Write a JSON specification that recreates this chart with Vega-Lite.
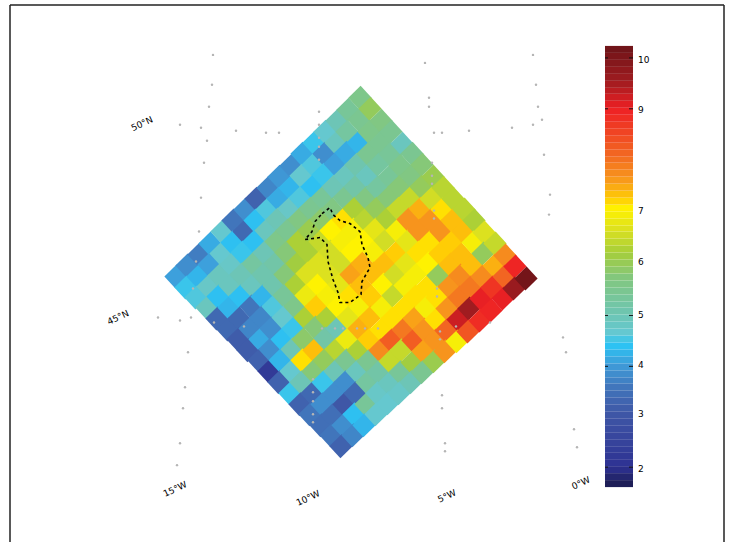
{"$schema":"https://vega.github.io/schema/vega-lite/v6.json","width":733,"height":543,"padding":0,"autosize":{"type":"fit","contains":"padding"},"background":"white","config":{"view":{"stroke":null}},
"datasets":{"cells":[
{"e":176,"n":266,"v":4.1},{"e":187,"n":277,"v":3.9},{"e":199,"n":288,"v":3.7},{"e":210,"n":299,"v":4.2},{"e":222,"n":311,"v":4.7},{"e":233,"n":322,"v":3.6},{"e":245,"n":333,"v":3.9},{"e":256,"n":344,"v":3.3},{"e":268,"n":355,"v":3.8},{"e":279,"n":366,"v":4.0},{"e":291,"n":377,"v":3.9},{"e":302,"n":389,"v":4.2},{"e":314,"n":400,"v":4.5},{"e":325,"n":411,"v":4.7},{"e":337,"n":422,"v":5.0},{"e":348,"n":433,"v":5.4},{"e":360,"n":445,"v":5.6},
{"e":186,"n":255,"v":4.5},{"e":198,"n":266,"v":4.3},{"e":209,"n":278,"v":4.1},{"e":221,"n":289,"v":4.7},{"e":232,"n":300,"v":4.4},{"e":244,"n":311,"v":3.4},{"e":255,"n":322,"v":4.4},{"e":267,"n":333,"v":4.6},{"e":278,"n":344,"v":4.2},{"e":290,"n":355,"v":4.3},{"e":301,"n":367,"v":4.7},{"e":313,"n":378,"v":4.6},{"e":324,"n":389,"v":3.9},{"e":336,"n":400,"v":4.9},{"e":347,"n":411,"v":5.3},{"e":359,"n":423,"v":5.5},{"e":370,"n":434,"v":6.0},
{"e":196,"n":245,"v":4.6},{"e":208,"n":256,"v":4.8},{"e":219,"n":267,"v":4.9},{"e":231,"n":278,"v":4.8},{"e":242,"n":290,"v":4.5},{"e":254,"n":301,"v":4.4},{"e":266,"n":312,"v":4.9},{"e":277,"n":323,"v":5.0},{"e":289,"n":334,"v":4.8},{"e":300,"n":345,"v":4.6},{"e":312,"n":356,"v":4.4},{"e":323,"n":368,"v":4.5},{"e":335,"n":379,"v":4.1},{"e":346,"n":390,"v":4.2},{"e":358,"n":400,"v":4.3},{"e":369,"n":411,"v":5.6},{"e":381,"n":422,"v":5.7},
{"e":207,"n":235,"v":4.9},{"e":218,"n":246,"v":4.4},{"e":230,"n":257,"v":4.9},{"e":241,"n":268,"v":5.0},{"e":253,"n":279,"v":5.3},{"e":264,"n":290,"v":5.0},{"e":276,"n":301,"v":5.6},{"e":287,"n":312,"v":5.5},{"e":299,"n":323,"v":5.7},{"e":310,"n":334,"v":5.5},{"e":322,"n":345,"v":5.4},{"e":333,"n":356,"v":5.0},{"e":345,"n":367,"v":4.9},{"e":356,"n":378,"v":5.1},{"e":368,"n":389,"v":5.5},{"e":380,"n":400,"v":5.5},{"e":391,"n":411,"v":5.5},
{"e":217,"n":224,"v":3.4},{"e":229,"n":235,"v":4.3},{"e":240,"n":246,"v":4.4},{"e":252,"n":257,"v":4.9},{"e":263,"n":268,"v":5.1},{"e":275,"n":279,"v":5.2},{"e":286,"n":290,"v":5.8},{"e":298,"n":301,"v":6.3},{"e":309,"n":312,"v":6.1},{"e":321,"n":323,"v":5.9},{"e":332,"n":333,"v":5.7},{"e":344,"n":345,"v":5.5},{"e":355,"n":356,"v":5.2},{"e":367,"n":367,"v":4.9},{"e":378,"n":378,"v":5.3},{"e":390,"n":389,"v":5.4},{"e":402,"n":399,"v":4.9},
{"e":228,"n":213,"v":3.4},{"e":239,"n":224,"v":3.4},{"e":251,"n":236,"v":3.6},{"e":262,"n":246,"v":4.3},{"e":274,"n":257,"v":5.1},{"e":285,"n":268,"v":5.8},{"e":297,"n":279,"v":6.2},{"e":308,"n":290,"v":6.3},{"e":320,"n":301,"v":6.5},{"e":331,"n":312,"v":7.1},{"e":343,"n":323,"v":7.2},{"e":354,"n":334,"v":6.3},{"e":366,"n":345,"v":5.7},{"e":377,"n":355,"v":5.3},{"e":389,"n":366,"v":5.4},{"e":400,"n":377,"v":5.6},{"e":412,"n":389,"v":5.5},
{"e":238,"n":203,"v":3.2},{"e":250,"n":214,"v":3.8},{"e":261,"n":225,"v":3.8},{"e":273,"n":236,"v":4.6},{"e":284,"n":247,"v":5.4},{"e":296,"n":258,"v":6.3},{"e":307,"n":269,"v":6.7},{"e":319,"n":280,"v":6.7},{"e":330,"n":291,"v":6.6},{"e":342,"n":301,"v":7.0},{"e":353,"n":313,"v":7.0},{"e":365,"n":323,"v":6.4},{"e":376,"n":334,"v":6.0},{"e":388,"n":345,"v":5.8},{"e":399,"n":356,"v":5.8},{"e":411,"n":367,"v":5.7},{"e":422,"n":378,"v":5.8},
{"e":248,"n":192,"v":3.2},{"e":260,"n":203,"v":4.2},{"e":271,"n":214,"v":3.9},{"e":283,"n":225,"v":4.7},{"e":295,"n":236,"v":5.6},{"e":306,"n":247,"v":6.9},{"e":318,"n":258,"v":7.1},{"e":329,"n":269,"v":6.7},{"e":341,"n":280,"v":6.6},{"e":352,"n":291,"v":7.1},{"e":364,"n":302,"v":7.1},{"e":375,"n":313,"v":6.8},{"e":387,"n":324,"v":6.3},{"e":398,"n":334,"v":6.5},{"e":410,"n":345,"v":6.5},{"e":421,"n":356,"v":6.0},{"e":433,"n":366,"v":6.1},
{"e":259,"n":182,"v":3.3},{"e":270,"n":193,"v":3.9},{"e":282,"n":203,"v":4.4},{"e":293,"n":214,"v":4.5},{"e":305,"n":225,"v":6.3},{"e":316,"n":236,"v":7.3},{"e":328,"n":247,"v":7.0},{"e":339,"n":258,"v":6.8},{"e":351,"n":268,"v":7.6},{"e":362,"n":279,"v":7.5},{"e":374,"n":291,"v":7.0},{"e":385,"n":302,"v":6.6},{"e":397,"n":312,"v":7.0},{"e":408,"n":323,"v":7.7},{"e":420,"n":334,"v":7.5},{"e":431,"n":344,"v":6.6},{"e":443,"n":355,"v":6.4},
{"e":269,"n":171,"v":2.3},{"e":280,"n":182,"v":4.3},{"e":292,"n":193,"v":5.0},{"e":303,"n":203,"v":5.9},{"e":315,"n":215,"v":5.8},{"e":327,"n":225,"v":6.3},{"e":338,"n":236,"v":7.1},{"e":350,"n":247,"v":7.2},{"e":361,"n":257,"v":7.4},{"e":373,"n":269,"v":7.4},{"e":384,"n":279,"v":7.4},{"e":396,"n":290,"v":7.3},{"e":407,"n":301,"v":6.8},{"e":419,"n":312,"v":7.7},{"e":430,"n":322,"v":7.7},{"e":442,"n":333,"v":7.2},{"e":453,"n":344,"v":6.4},
{"e":279,"n":160,"v":3.3},{"e":291,"n":171,"v":4.7},{"e":302,"n":182,"v":7.2},{"e":314,"n":192,"v":7.4},{"e":325,"n":204,"v":5.2},{"e":337,"n":214,"v":5.0},{"e":348,"n":225,"v":6.8},{"e":360,"n":236,"v":7.0},{"e":371,"n":246,"v":7.3},{"e":383,"n":258,"v":7.1},{"e":395,"n":268,"v":6.6},{"e":406,"n":279,"v":6.8},{"e":418,"n":290,"v":7.2},{"e":429,"n":300,"v":7.2},{"e":441,"n":311,"v":7.7},{"e":452,"n":322,"v":7.4},{"e":464,"n":333,"v":6.4},
{"e":290,"n":149,"v":4.5},{"e":301,"n":160,"v":5.0},{"e":313,"n":171,"v":5.8},{"e":324,"n":182,"v":6.0},{"e":336,"n":193,"v":6.4},{"e":347,"n":203,"v":6.9},{"e":359,"n":214,"v":7.5},{"e":370,"n":225,"v":7.4},{"e":382,"n":235,"v":7.0},{"e":393,"n":247,"v":6.5},{"e":405,"n":257,"v":7.0},{"e":416,"n":268,"v":7.0},{"e":428,"n":279,"v":7.1},{"e":440,"n":289,"v":7.3},{"e":451,"n":300,"v":7.3},{"e":463,"n":311,"v":7.4},{"e":474,"n":322,"v":6.3},
{"e":300,"n":138,"v":3.3},{"e":312,"n":149,"v":3.4},{"e":323,"n":160,"v":4.5},{"e":335,"n":171,"v":5.0},{"e":346,"n":182,"v":5.5},{"e":358,"n":192,"v":6.3},{"e":369,"n":203,"v":7.3},{"e":381,"n":213,"v":7.2},{"e":392,"n":224,"v":7.2},{"e":404,"n":235,"v":7.2},{"e":415,"n":246,"v":7.2},{"e":427,"n":256,"v":7.2},{"e":438,"n":267,"v":6.0},{"e":450,"n":278,"v":7.4},{"e":461,"n":288,"v":7.4},{"e":473,"n":300,"v":7.0},{"e":484,"n":310,"v":6.7},
{"e":310,"n":128,"v":3.6},{"e":322,"n":138,"v":3.9},{"e":334,"n":149,"v":3.9},{"e":345,"n":160,"v":3.9},{"e":357,"n":171,"v":4.9},{"e":368,"n":181,"v":5.5},{"e":380,"n":192,"v":7.8},{"e":391,"n":202,"v":8.3},{"e":403,"n":213,"v":8.0},{"e":414,"n":224,"v":7.6},{"e":426,"n":235,"v":7.0},{"e":437,"n":245,"v":7.2},{"e":449,"n":256,"v":7.7},{"e":460,"n":267,"v":7.8},{"e":472,"n":277,"v":7.4},{"e":483,"n":289,"v":6.0},{"e":495,"n":299,"v":6.5},
{"e":321,"n":117,"v":3.5},{"e":332,"n":127,"v":3.5},{"e":344,"n":138,"v":3.1},{"e":355,"n":149,"v":3.4},{"e":367,"n":160,"v":5.3},{"e":378,"n":170,"v":5.2},{"e":390,"n":181,"v":6.5},{"e":401,"n":192,"v":6.5},{"e":413,"n":202,"v":8.3},{"e":424,"n":213,"v":7.7},{"e":436,"n":223,"v":7.2},{"e":447,"n":234,"v":7.7},{"e":459,"n":245,"v":8.0},{"e":470,"n":255,"v":8.0},{"e":482,"n":266,"v":7.8},{"e":494,"n":277,"v":7.5},{"e":505,"n":287,"v":7.8},
{"e":331,"n":107,"v":3.6},{"e":343,"n":117,"v":3.9},{"e":354,"n":128,"v":4.4},{"e":366,"n":138,"v":5.4},{"e":377,"n":149,"v":4.8},{"e":389,"n":159,"v":4.9},{"e":400,"n":170,"v":5.4},{"e":412,"n":180,"v":6.2},{"e":423,"n":191,"v":7.6},{"e":435,"n":202,"v":7.7},{"e":446,"n":212,"v":8.2},{"e":458,"n":223,"v":9.3},{"e":469,"n":234,"v":9.6},{"e":481,"n":244,"v":9.1},{"e":492,"n":255,"v":8.8},{"e":504,"n":266,"v":8.2},{"e":515,"n":276,"v":9.0},
{"e":341,"n":96,"v":3.3},{"e":353,"n":107,"v":3.8},{"e":364,"n":117,"v":4.3},{"e":376,"n":128,"v":4.7},{"e":388,"n":139,"v":4.7},{"e":399,"n":149,"v":4.8},{"e":411,"n":160,"v":5.0},{"e":422,"n":170,"v":5.5},{"e":434,"n":181,"v":6.1},{"e":445,"n":191,"v":7.7},{"e":457,"n":201,"v":7.0},{"e":468,"n":211,"v":8.4},{"e":480,"n":222,"v":8.9},{"e":491,"n":232,"v":9.0},{"e":503,"n":244,"v":9.1},{"e":514,"n":254,"v":9.7},{"e":526,"n":264,"v":10.2}
],
"bar":[{"v":1.72,"n":55,"n2":62},{"v":1.85,"n":62,"n2":69},{"v":1.99,"n":69,"n2":76},{"v":2.12,"n":76,"n2":83},{"v":2.26,"n":83,"n2":90},{"v":2.39,"n":90,"n2":96},{"v":2.53,"n":96,"n2":103},{"v":2.66,"n":103,"n2":110},{"v":2.8,"n":110,"n2":117},{"v":2.94,"n":117,"n2":124},{"v":3.07,"n":124,"n2":131},{"v":3.21,"n":131,"n2":138},{"v":3.34,"n":138,"n2":145},{"v":3.48,"n":145,"n2":152},{"v":3.61,"n":152,"n2":159},{"v":3.75,"n":159,"n2":165},{"v":3.88,"n":165,"n2":172},{"v":4.02,"n":172,"n2":179},{"v":4.15,"n":179,"n2":186},{"v":4.29,"n":186,"n2":193},{"v":4.42,"n":193,"n2":200},{"v":4.56,"n":200,"n2":207},{"v":4.69,"n":207,"n2":214},{"v":4.83,"n":214,"n2":221},{"v":4.96,"n":221,"n2":228},{"v":5.1,"n":228,"n2":235},{"v":5.23,"n":235,"n2":241},{"v":5.37,"n":241,"n2":248},{"v":5.5,"n":248,"n2":255},{"v":5.64,"n":255,"n2":262},{"v":5.77,"n":262,"n2":269},{"v":5.91,"n":269,"n2":276},{"v":6.04,"n":276,"n2":283},{"v":6.18,"n":283,"n2":290},{"v":6.31,"n":290,"n2":297},{"v":6.45,"n":297,"n2":304},{"v":6.58,"n":304,"n2":311},{"v":6.72,"n":311,"n2":317},{"v":6.85,"n":317,"n2":324},{"v":6.99,"n":324,"n2":331},{"v":7.12,"n":331,"n2":338},{"v":7.26,"n":338,"n2":345},{"v":7.39,"n":345,"n2":352},{"v":7.53,"n":352,"n2":359},{"v":7.66,"n":359,"n2":366},{"v":7.8,"n":366,"n2":373},{"v":7.93,"n":373,"n2":380},{"v":8.07,"n":380,"n2":386},{"v":8.2,"n":386,"n2":393},{"v":8.34,"n":393,"n2":400},{"v":8.47,"n":400,"n2":407},{"v":8.61,"n":407,"n2":414},{"v":8.74,"n":414,"n2":421},{"v":8.88,"n":421,"n2":428},{"v":9.01,"n":428,"n2":435},{"v":9.15,"n":435,"n2":442},{"v":9.28,"n":442,"n2":449},{"v":9.42,"n":449,"n2":455},{"v":9.55,"n":455,"n2":462},{"v":9.69,"n":462,"n2":469},{"v":9.82,"n":469,"n2":476},{"v":9.96,"n":476,"n2":483},{"v":10.09,"n":483,"n2":490},{"v":10.23,"n":490,"n2":497}],
"barlabels":[{"t":"10","n":483},{"t":"9","n":433},{"t":"7","n":332},{"t":"6","n":281},{"t":"5","n":227},{"t":"4","n":177},{"t":"3","n":128},{"t":"2","n":73}],
"contour":[{"o":1,"e":322,"n":329},{"o":2,"e":330,"n":335},{"o":3,"e":333,"n":328},{"o":4,"e":340,"n":322},{"o":5,"e":350,"n":319},{"o":6,"e":360,"n":311},{"o":7,"e":362,"n":298},{"o":8,"e":368,"n":285},{"o":9,"e":370,"n":275},{"o":10,"e":362,"n":261},{"o":11,"e":361,"n":248},{"o":12,"e":350,"n":240},{"o":13,"e":340,"n":240},{"o":14,"e":338,"n":250},{"o":15,"e":333,"n":263},{"o":16,"e":328,"n":281},{"o":17,"e":327,"n":298},{"o":18,"e":320,"n":305},{"o":19,"e":305,"n":303},{"o":20,"e":312,"n":311},{"o":21,"e":315,"n":321},{"o":22,"e":322,"n":329}],
"dots":[{"e":212,"n":458},{"e":209,"n":436},{"e":180,"n":418},{"e":201,"n":415},{"e":236,"n":412},{"e":266,"n":410},{"e":279,"n":410},{"e":207,"n":402},{"e":204,"n":380},{"e":201,"n":345},{"e":199,"n":311},{"e":319,"n":431},{"e":319,"n":418},{"e":319,"n":405},{"e":319,"n":396},{"e":319,"n":383},{"e":196,"n":281},{"e":536,"n":458},{"e":429,"n":445},{"e":429,"n":436},{"e":538,"n":436},{"e":542,"n":423},{"e":533,"n":418},{"e":434,"n":410},{"e":442,"n":410},{"e":469,"n":412},{"e":512,"n":415},{"e":544,"n":388},{"e":432,"n":380},{"e":432,"n":367},{"e":432,"n":359},{"e":434,"n":332},{"e":434,"n":324},{"e":158,"n":225},{"e":180,"n":222},{"e":191,"n":225},{"e":193,"n":254},{"e":214,"n":220},{"e":244,"n":216},{"e":188,"n":190},{"e":185,"n":155},{"e":183,"n":134},{"e":180,"n":99},{"e":177,"n":77},{"e":313,"n":163},{"e":313,"n":150},{"e":313,"n":141},{"e":313,"n":128},{"e":313,"n":120},{"e":322,"n":214},{"e":335,"n":214},{"e":343,"n":214},{"e":357,"n":214},{"e":365,"n":214},{"e":378,"n":214},{"e":437,"n":254},{"e":437,"n":246},{"e":440,"n":211},{"e":440,"n":203},{"e":456,"n":216},{"e":490,"n":220},{"e":442,"n":147},{"e":442,"n":134},{"e":445,"n":99},{"e":445,"n":91},{"e":213,"n":488},{"e":533,"n":488},{"e":425,"n":480},{"e":550,"n":348},{"e":549,"n":328},{"e":563,"n":205},{"e":566,"n":190},{"e":574,"n":113},{"e":577,"n":95}],
"labels":[{"t":"50°N","e":142,"n":419},{"t":"45°N","e":118,"n":225},{"t":"15°W","e":175,"n":53},{"t":"10°W","e":308,"n":44},{"t":"5°W","e":447,"n":46},{"t":"0°W","e":581,"n":59}],
"frame":[{"e":10,"e2":10,"n":0,"n2":538},{"e":10,"e2":724,"n":538,"n2":538},{"e":724,"e2":724,"n":0,"n2":538}],
"ticks":[{"e":605,"e2":608,"n":485},{"e":629,"e2":633,"n":485},{"e":605,"e2":608,"n":434},{"e":629,"e2":633,"n":434},{"e":605,"e2":608,"n":227},{"e":629,"e2":633,"n":227},{"e":605,"e2":608,"n":176},{"e":629,"e2":633,"n":176},{"e":605,"e2":608,"n":75},{"e":629,"e2":633,"n":75}]},
"layer":[
{"data":{"name":"cells"},"mark":{"type":"point","filled":true,"opacity":1,"shape":"M0.05,-1L0.97,0L-0.05,1L-0.97,0Z"},"encoding":{"x":{"field":"e","type":"quantitative","scale":{"domain":[0,733],"nice":false,"zero":false},"axis":null},"y":{"field":"n","type":"quantitative","scale":{"domain":[0,543],"nice":false,"zero":false},"axis":null},"size":{"value":575},"color":{"field":"v","type":"quantitative","scale":{"domain":[1.65,2.04,3.13,3.6,4.05,4.44,4.69,5.02,5.75,6.25,6.64,7.11,7.31,7.7,8.2,9.06,9.6,10.29],"range":["#1a1a4a","#2e3192","#3f58a7","#4175bb","#3f9bd8","#2cc4f4","#65c8d0","#6dc5b4","#82c77f","#a6ce39","#d7df23","#fff200","#ffcb05","#f7941d","#f26522","#ee2024","#a01c20","#6d1418"],"interpolate":"rgb"},"legend":null}}},
{"data":{"name":"bar"},"mark":{"type":"rect"},"encoding":{"x":{"datum":605,"type":"quantitative"},"x2":{"datum":633},"y":{"field":"n","type":"quantitative"},"y2":{"field":"n2"},"color":{"field":"v","type":"quantitative","legend":null}}},
{"data":{"name":"barlabels"},"mark":{"type":"text","align":"left","fontSize":9,"font":"DejaVu Sans","color":"black"},"encoding":{"x":{"datum":638,"type":"quantitative"},"y":{"field":"n","type":"quantitative"},"text":{"field":"t"}}},
{"data":{"name":"contour"},"mark":{"type":"line","color":"black","strokeWidth":1.6,"strokeDash":[3,3]},"encoding":{"x":{"field":"e","type":"quantitative"},"y":{"field":"n","type":"quantitative"},"order":{"field":"o","type":"quantitative"}}},
{"data":{"name":"dots"},"mark":{"type":"circle","color":"#b5b5b5","opacity":1,"size":6},"encoding":{"x":{"field":"e","type":"quantitative"},"y":{"field":"n","type":"quantitative"}}},
{"data":{"name":"labels"},"mark":{"type":"text","angle":335,"fontSize":9,"font":"DejaVu Sans","color":"black"},"encoding":{"x":{"field":"e","type":"quantitative"},"y":{"field":"n","type":"quantitative"},"text":{"field":"t"}}},
{"data":{"name":"frame"},"mark":{"type":"rule","color":"#222","strokeWidth":1.5},"encoding":{"x":{"field":"e","type":"quantitative"},"x2":{"field":"e2"},"y":{"field":"n","type":"quantitative"},"y2":{"field":"n2"}}},
{"data":{"name":"ticks"},"mark":{"type":"rule","color":"#111","strokeWidth":1},"encoding":{"x":{"field":"e","type":"quantitative"},"x2":{"field":"e2"},"y":{"field":"n","type":"quantitative"}}}
]}
